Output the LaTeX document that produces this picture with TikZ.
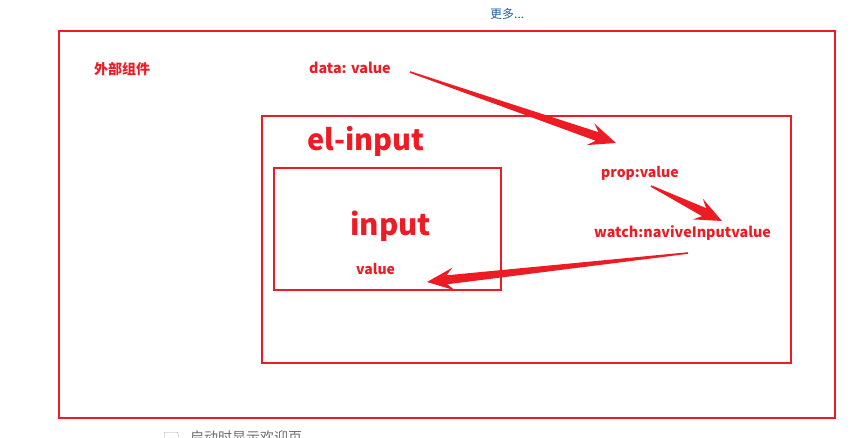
\documentclass[tikz,border=0pt]{standalone}
\usepackage{fontspec}
\newfontfamily\cjk{Noto Sans CJK SC}
\usetikzlibrary{calc}
\definecolor{ared}{RGB}{237,28,36}
\definecolor{ablue}{RGB}{31,95,168}
\definecolor{agray}{RGB}{110,110,110}
\newcommand\taparrow[2]{%
  \coordinate (tA) at (#1);
  \coordinate (tB) at (#2);
  \coordinate (tH) at ($(tB)!20pt!(tA)$);
  \coordinate (tK) at ($(tB)!27pt!(tA)$);
  \fill[ared] ($(tA)!0.8pt!90:(tB)$) -- ($(tH)!4.5pt!90:(tB)$) -- ($(tK)!11.5pt!90:(tB)$)
    -- (tB) -- ($(tK)!11.5pt!-90:(tB)$) -- ($(tH)!4.5pt!-90:(tB)$) -- ($(tA)!0.8pt!-90:(tB)$) -- cycle;
}
\begin{document}
\begin{tikzpicture}[x=1pt,y=-1pt,
  box/.style={draw=ared, line width=2pt, inner sep=0pt},
  lbl/.style={text=ared, font=\cjk\bfseries, inner sep=0pt}]
\useasboundingbox (0,0) rectangle (865,437);
% boxes
\node[box, minimum width=776pt, minimum height=387pt, anchor=north west] (outer) at (58,30) {};
\node[box, minimum width=529pt, minimum height=247pt, anchor=north west] (elinput) at (261,115) {};
\node[box, minimum width=227pt, minimum height=122pt, anchor=north west] (inputbox) at (273,167) {};
% texts
\node[text=ablue, font=\cjk\fontsize{12}{14}\selectfont, inner sep=0pt, anchor=base west] (more) at (490,18) {更多...};
\node[lbl, font=\cjk\bfseries\fontsize{14}{16}\selectfont, anchor=base west] (outerlbl) at (94,74) {外部组件};
\node[lbl, font=\cjk\bfseries\fontsize{14.3}{16}\selectfont, anchor=base west] (data) at (309,73) {data: value};
\node[lbl, font=\cjk\bfseries\fontsize{29}{32}\selectfont, anchor=base west] (ellbl) at (307,150) {el-input};
\node[lbl, font=\cjk\bfseries\fontsize{29.5}{34}\selectfont, anchor=base west] (inputlbl) at (350,235) {input};
\node[lbl, font=\cjk\bfseries\fontsize{14}{16}\selectfont, anchor=base west] (val) at (356,274) {value};
\node[lbl, font=\cjk\bfseries\fontsize{14}{16}\selectfont, anchor=base west] (prop) at (601,177) {prop:value};
\node[lbl, font=\cjk\bfseries\fontsize{14.3}{16}\selectfont, anchor=base west] (watch) at (594,237) {watch:naviveInputvalue};
% bottom (cut off, as in the reference)
\node[draw=agray!60, rounded corners=1pt, minimum size=14pt, inner sep=0pt, anchor=north west] (chk) at (164,432) {};
\node[text=agray, font=\cjk\fontsize{14}{16}\selectfont, inner sep=0pt, anchor=north west] (welcome) at (190,431) {启动时显示欢迎页};
% arrows
\coordinate (a1s) at (410,72);  \coordinate (a1e) at (616,143);
\coordinate (a2s) at (651,186); \coordinate (a2e) at (722,221);
\coordinate (a3s) at (688,253); \coordinate (a3e) at (427,282);
\taparrow{a1s}{a1e}
\taparrow{a2s}{a2e}
\taparrow{a3s}{a3e}
\end{tikzpicture}
\end{document}
